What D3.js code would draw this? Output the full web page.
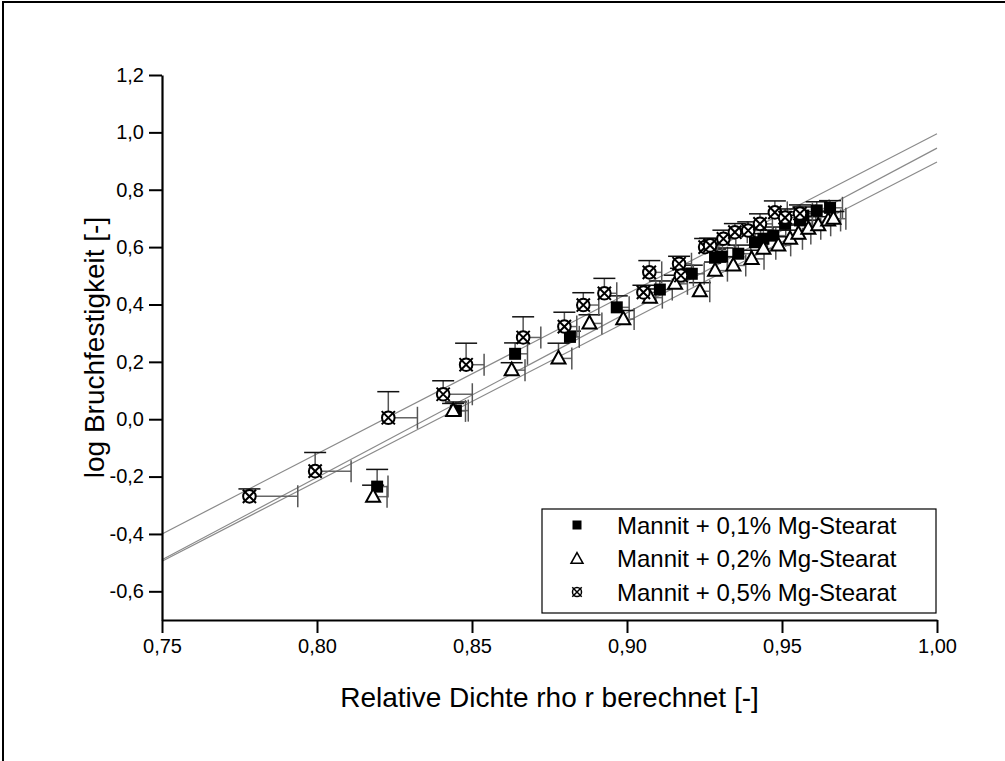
<!DOCTYPE html>
<html>
<head>
<meta charset="utf-8">
<script src="https://cdn.jsdelivr.net/npm/d3@7"></script>
<style>
  html, body { margin: 0; padding: 0; background: #fff; }
  svg { display: block; font-family: "Liberation Sans", Arial, sans-serif; }
</style>
</head>
<body>
<svg id="chart" width="1005" height="761"></svg>
<script>
// Series: Mannit + 0,1% Mg-Stearat (filled squares)
const sqX  = [0.8194, 0.8448, 0.8639, 0.8816, 0.8967, 0.9106, 0.9209, 0.9284, 0.9306, 0.9359, 0.9413, 0.9440, 0.9472, 0.9510, 0.9558, 0.9569, 0.9612, 0.9655];
const sqY  = [-0.235, 0.030, 0.228, 0.287, 0.390, 0.452, 0.507, 0.563, 0.567, 0.577, 0.617, 0.629, 0.640, 0.681, 0.693, 0.710, 0.728, 0.737];
const sqEx = [0.0035, 0.004, 0.004, 0.003, 0.004, 0.004, 0.004, 0.004, 0.004, 0.004, 0.004, 0.004, 0.004, 0.004, 0.004, 0.004, 0.004, 0.004];
const sqEy = [0.060, 0.030, 0.038, 0.020, 0.040, 0.030, 0.030, 0.030, 0.030, 0.030, 0.030, 0.030, 0.030, 0.030, 0.030, 0.030, 0.030, 0.025];

// Series: Mannit + 0,2% Mg-Stearat (open triangles)
const trX  = [0.8181, 0.8439, 0.8628, 0.8779, 0.8879, 0.8988, 0.9074, 0.9155, 0.9235, 0.9284, 0.9343, 0.9402, 0.9440, 0.9488, 0.9526, 0.9553, 0.9585, 0.9617, 0.9649, 0.9666];
const trY  = [-0.270, 0.029, 0.171, 0.212, 0.334, 0.349, 0.424, 0.472, 0.446, 0.518, 0.536, 0.559, 0.594, 0.606, 0.629, 0.647, 0.664, 0.676, 0.693, 0.699];
const trEx = [0.0045, 0.004, 0.0043, 0.0043, 0.004, 0.0035, 0.004, 0.004, 0.0032, 0.004, 0.004, 0.004, 0.004, 0.004, 0.004, 0.004, 0.004, 0.004, 0.004, 0.004];
const trEy = [0.040, 0.026, 0.026, 0.053, 0.030, 0.030, 0.030, 0.030, 0.030, 0.030, 0.030, 0.030, 0.030, 0.030, 0.030, 0.030, 0.030, 0.030, 0.030, 0.025];

// Series: Mannit + 0,5% Mg-Stearat (crossed circles)
const ccX  = [0.7782, 0.7994, 0.8230, 0.8407, 0.8481, 0.8665, 0.8798, 0.8859, 0.8927, 0.9053, 0.9072, 0.9168, 0.9174, 0.9252, 0.9268, 0.9311, 0.9348, 0.9391, 0.9429, 0.9477, 0.9510, 0.9558];
const ccY  = [-0.269, -0.181, 0.005, 0.087, 0.190, 0.285, 0.323, 0.398, 0.439, 0.442, 0.512, 0.542, 0.501, 0.600, 0.606, 0.629, 0.652, 0.658, 0.681, 0.721, 0.703, 0.717];
const ccEx = [0.0156, 0.0116, 0.0094, 0.0094, 0.0058, 0.0057, 0.004, 0.005, 0.004, 0.004, 0.004, 0.004, 0.004, 0.004, 0.004, 0.004, 0.004, 0.004, 0.004, 0.004, 0.004, 0.004];
const ccEy = [0.026, 0.065, 0.091, 0.047, 0.075, 0.072, 0.050, 0.043, 0.052, 0.025, 0.041, 0.026, 0.025, 0.030, 0.025, 0.030, 0.030, 0.030, 0.035, 0.040, 0.030, 0.030];

// Linear fits, evaluated at the ends of the x range
const fitX   = [0.75, 1.00];
const fit01  = [-0.490, 0.945];
const fit02  = [-0.495, 0.897];
const fit05  = [-0.400, 0.995];

// Axis ticks and labels
const xMajor = [0.75, 0.80, 0.85, 0.90, 0.95, 1.00];
const xMinor = [0.775, 0.825, 0.875, 0.925, 0.975];
const yMajor = [-0.6, -0.4, -0.2, 0.0, 0.2, 0.4, 0.6, 0.8, 1.0, 1.2];
const yMinor = [-0.7, -0.5, -0.3, -0.1, 0.1, 0.3, 0.5, 0.7, 0.9, 1.1];
const legendLabels = ["Mannit + 0,1% Mg-Stearat", "Mannit + 0,2% Mg-Stearat", "Mannit + 0,5% Mg-Stearat"];
const xTitle = "Relative Dichte rho r berechnet [-]";
const yTitle = "log Bruchfestigkeit [-]";

const svg = d3.select("#chart");

// outer frame (only top and left edges fall inside the page)
svg.append("rect")
  .attr("x", 3).attr("y", 2).attr("width", 1200).attr("height", 1000)
  .attr("fill", "none").attr("stroke", "#000").attr("stroke-width", 2);

const x = d3.scaleLinear().domain([0.75, 1.00]).range([162, 937]);
const y = d3.scaleLinear().domain([-0.7, 1.2]).range([620, 75]);

const comma = (v, d) => v.toFixed(d).replace(".", ",");

// fit lines
const fitLine = d3.line().x(d => x(d[0])).y(d => y(d[1]));
[fit01, fit02, fit05].forEach(f => {
  svg.append("path")
    .attr("d", fitLine(fitX.map((v, i) => [v, f[i]])))
    .attr("fill", "none").attr("stroke", "#8a8a8a").attr("stroke-width", 1.2);
});

// axes
const gx = svg.append("g").attr("transform", `translate(0,${y(-0.7)})`);
gx.call(d3.axisBottom(x).tickValues(xMinor).tickSize(7).tickSizeOuter(0).tickFormat(""));
gx.call(d3.axisBottom(x).tickValues(xMajor).tickSize(13).tickSizeOuter(0).tickPadding(6).tickFormat(d => comma(d, 2)));

const gy = svg.append("g").attr("transform", `translate(${x(0.75)},0)`);
gy.call(d3.axisLeft(y).tickValues(yMinor).tickSize(7).tickSizeOuter(0).tickFormat(""));
gy.call(d3.axisLeft(y).tickValues(yMajor).tickSize(13).tickSizeOuter(0).tickPadding(5).tickFormat(d => comma(d, 1)));

[gx, gy].forEach(g => {
  g.selectAll(".domain").attr("stroke", "#000").attr("stroke-width", 2.2);
  g.selectAll(".tick line").attr("stroke", "#000").attr("stroke-width", 2);
  g.selectAll(".tick text").attr("fill", "#000").style("font-size", "20px")
    .style("font-family", '"Liberation Sans", Arial, sans-serif');
});

// axis titles
svg.append("text")
  .attr("x", (x(0.75) + x(1.0)) / 2).attr("y", 707)
  .attr("text-anchor", "middle").style("font-size", "28px").text(xTitle);
svg.append("text")
  .attr("transform", `translate(104,${(y(-0.7) + y(1.2)) / 2}) rotate(-90)`)
  .attr("text-anchor", "middle").style("font-size", "28px").text(yTitle);

// error bars: upward in y, rightward in x
function errorBars(xs, ys, exs, eys) {
  const g = svg.append("g");
  xs.forEach((xv, i) => {
    const px = x(xv), py = y(ys[i]);
    const pyTop = y(ys[i] + eys[i]);
    const pxRight = x(xv + exs[i]);
    g.append("line").attr("x1", px).attr("x2", px).attr("y1", py).attr("y2", pyTop)
      .attr("stroke", "#555").attr("stroke-width", 1.5);
    g.append("line").attr("x1", px - 11).attr("x2", px + 11).attr("y1", pyTop).attr("y2", pyTop)
      .attr("stroke", "#111").attr("stroke-width", 1.5);
    g.append("line").attr("x1", px).attr("x2", pxRight).attr("y1", py).attr("y2", py)
      .attr("stroke", "#666").attr("stroke-width", 1.5);
    g.append("line").attr("x1", pxRight).attr("x2", pxRight).attr("y1", py - 11).attr("y2", py + 11)
      .attr("stroke", "#555").attr("stroke-width", 1.5);
  });
}
errorBars(sqX, sqY, sqEx, sqEy);
errorBars(trX, trY, trEx, trEy);
errorBars(ccX, ccY, ccEx, ccEy);

// marker shapes
function drawSquare(g, cx, cy, s) {
  g.append("rect").attr("x", cx - s / 2).attr("y", cy - s / 2).attr("width", s).attr("height", s)
    .attr("fill", "#000");
}
function drawTriangle(g, cx, cy, s, sw) {
  const h = s * 0.9;
  g.append("path")
    .attr("d", `M${cx},${cy - h * 0.6}L${cx + s / 2},${cy + h * 0.4}L${cx - s / 2},${cy + h * 0.4}Z`)
    .attr("fill", "#fff").attr("stroke", "#000").attr("stroke-width", sw).attr("stroke-linejoin", "miter");
}
function drawCrossed(g, cx, cy, r, sw) {
  g.append("circle").attr("cx", cx).attr("cy", cy).attr("r", r)
    .attr("fill", "#fff").attr("stroke", "#000").attr("stroke-width", sw);
  const a = r * 1.05;
  g.append("path")
    .attr("d", `M${cx - a},${cy - a}L${cx + a},${cy + a}M${cx + a},${cy - a}L${cx - a},${cy + a}`)
    .attr("stroke", "#000").attr("stroke-width", sw);
}

const gm = svg.append("g");
sqX.forEach((v, i) => drawSquare(gm, x(v), y(sqY[i]), 12));
trX.forEach((v, i) => drawTriangle(gm, x(v), y(trY[i]), 14, 2));
ccX.forEach((v, i) => drawCrossed(gm, x(v), y(ccY[i]), 6.3, 2));

// legend
const lg = svg.append("g");
lg.append("rect").attr("x", 542).attr("y", 509).attr("width", 394).attr("height", 104)
  .attr("fill", "#fff").attr("stroke", "#000").attr("stroke-width", 1.2);
const rowY = [525, 558, 592];
drawSquare(lg, 577, rowY[0], 9);
drawTriangle(lg, 577, rowY[1] + 1, 12, 1.5);
drawCrossed(lg, 577, rowY[2], 4.5, 1.5);
legendLabels.forEach((t, i) => {
  lg.append("text").attr("x", 617).attr("y", rowY[i]).attr("dy", "0.36em")
    .style("font-size", "24px").text(t);
});
</script>
</body>
</html>
